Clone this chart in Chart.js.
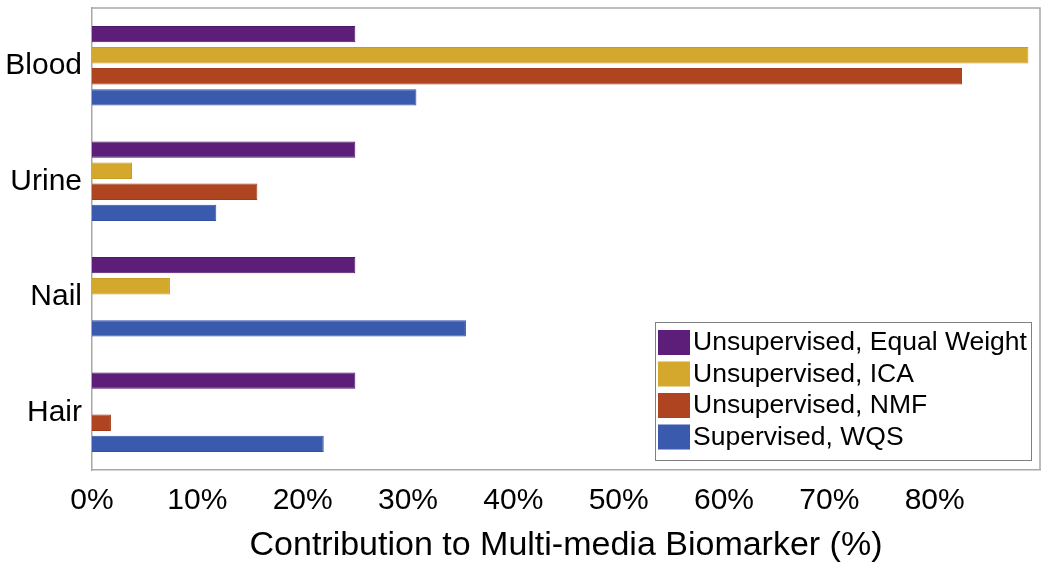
<!DOCTYPE html>
<html>
<head>
<meta charset="utf-8">
<script src="https://cdn.jsdelivr.net/npm/chart.js@4"></script>
<style>
  html, body { margin: 0; padding: 0; background: #fff; }
  #wrap { width: 1050px; height: 569px; }
</style>
</head>
<body>
<div id="wrap"><canvas id="biomarker"></canvas></div>
<script>
const media = ['Blood', 'Urine', 'Nail', 'Hair']
const equalWeight = [25.0, 25.0, 25.0, 25.0]
const ica = [88.9, 3.8, 7.4, 0]
const nmf = [82.6, 15.7, 0, 1.8]
const wqs = [30.8, 11.8, 35.5, 22.0]

const FONT = "'Liberation Sans', Arial, sans-serif"

// frame on top / right of plot + legend box inside the plot
const framePlugin = {
  id: 'frame',
  afterDraw(chart) {
    const ctx = chart.ctx
    const a = chart.chartArea
    ctx.save()
    ctx.strokeStyle = '#a8a8a8'
    ctx.lineWidth = 1.5
    ctx.beginPath()
    ctx.moveTo(a.left, a.top)
    ctx.lineTo(a.right, a.top)
    ctx.lineTo(a.right, a.bottom)
    ctx.stroke()

    // legend
    const lx = 655, ly = 322, lw = 376, lh = 138
    ctx.fillStyle = '#fff'
    ctx.fillRect(lx, ly, lw, lh)
    ctx.strokeStyle = '#808080'
    ctx.lineWidth = 1
    ctx.strokeRect(lx + 0.5, ly + 0.5, lw, lh)
    ctx.font = '26.5px ' + FONT
    ctx.textBaseline = 'middle'
    chart.data.datasets.forEach(function(ds, i) {
      const cy = ly + 20 + i * 31.5
      ctx.fillStyle = ds.backgroundColor
      ctx.fillRect(lx + 3, cy - 12, 32, 25)
      ctx.fillStyle = '#000'
      ctx.fillText(ds.label, lx + 38, cy + 1)
    })
    ctx.restore()
  }
}

new Chart(document.getElementById('biomarker').getContext('2d'), {
  type: 'bar',
  data: {
    labels: media,
    datasets: [
      {
        label: 'Unsupervised, Equal Weight',
        backgroundColor: '#5c1e78',
        borderColor: '#4e1668',
        borderWidth: 1,
        data: equalWeight
      },
      {
        label: 'Unsupervised, ICA',
        backgroundColor: '#d4a82c',
        borderColor: '#c89c22',
        borderWidth: 1,
        data: ica
      },
      {
        label: 'Unsupervised, NMF',
        backgroundColor: '#ae4520',
        borderColor: '#a23a18',
        borderWidth: 1,
        data: nmf
      },
      {
        label: 'Supervised, WQS',
        backgroundColor: '#3a5bad',
        borderColor: '#2f50a4',
        borderWidth: 1,
        data: wqs
      }
    ]
  },
  options: {
    indexAxis: 'y',
    responsive: true,
    maintainAspectRatio: false,
    animation: false,
    layout: { padding: { left: 0, top: 8, right: 10, bottom: 0 } },
    plugins: {
      legend: { display: false },
      tooltip: { enabled: false }
    },
    datasets: {
      bar: { categoryPercentage: 0.73, barPercentage: 0.78 }
    },
    scales: {
      x: {
        min: 0,
        max: 90,
        grid: { display: false },
        border: { display: true, color: '#a8a8a8', width: 1.5 },
        ticks: {
          stepSize: 10,
          maxRotation: 0,
          padding: 5,
          color: '#000',
          font: { family: FONT, size: 30 },
          callback: function(v) { return v > 80 ? '' : v + '%' }
        },
        title: {
          display: true,
          text: 'Contribution to Multi-media Biomarker (%)',
          color: '#000',
          font: { family: FONT, size: 34 },
          padding: { top: 0, bottom: 3 }
        },
        afterFit: function(scale) { scale.height = 99 }
      },
      y: {
        grid: { display: false },
        border: { display: true, color: '#a8a8a8', width: 1.5 },
        ticks: {
          padding: 2,
          color: '#000',
          font: { family: FONT, size: 30 }
        },
        afterFit: function(scale) {
          scale.width = 92
          scale.paddingTop = 0
          scale.paddingBottom = 0
        }
      }
    }
  },
  plugins: [framePlugin]
})
</script>
</body>
</html>
